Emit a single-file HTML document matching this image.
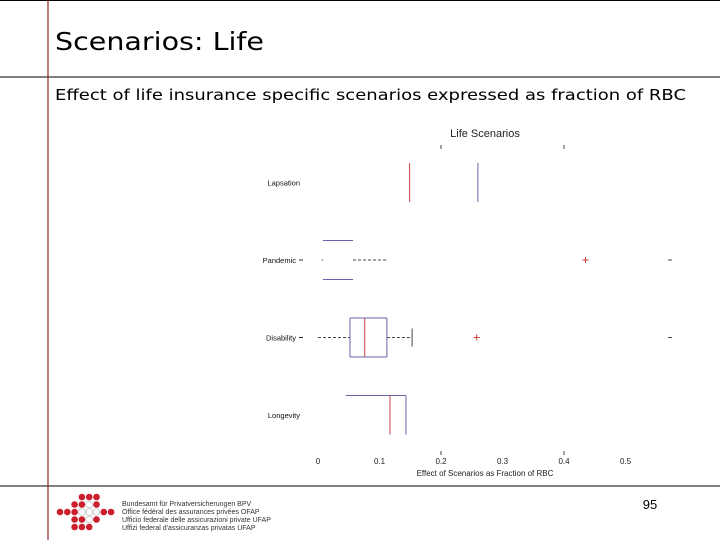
<!DOCTYPE html>
<html><head><meta charset="utf-8"><style>
html,body{margin:0;padding:0;background:#fff;}
svg{display:block;}
</style></head><body>
<svg width="720" height="540" viewBox="0 0 720 540" xmlns="http://www.w3.org/2000/svg" font-family="'Liberation Sans', sans-serif">
<g>
<line x1="0" y1="0.5" x2="720" y2="0.5" stroke="#000" stroke-width="1"/>
<line x1="0" y1="77" x2="720" y2="77" stroke="#000" stroke-width="1"/>
<line x1="0" y1="486" x2="720" y2="486" stroke="#000" stroke-width="1"/>
<line x1="48" y1="0" x2="48" y2="540" stroke="#8b2a2a" stroke-width="1.2"/>
</g>
<text x="55" y="50" font-family="'DejaVu Sans', sans-serif" font-size="25" textLength="209" lengthAdjust="spacingAndGlyphs">Scenarios: Life</text>
<text x="55" y="100" font-family="'DejaVu Sans', sans-serif" font-size="15.5" textLength="631" lengthAdjust="spacingAndGlyphs">Effect of life insurance specific scenarios expressed as fraction of RBC</text>
<text x="485" y="137" font-size="11" text-anchor="middle" fill="#222">Life Scenarios</text>
<g id="chart"></g>
<text x="485" y="476" font-size="8" text-anchor="middle" fill="#222">Effect of Scenarios as Fraction of RBC</text>
<g id="logo"></g>
<g font-size="7" fill="#333">
<text x="122" y="506">Bundesamt für Privatversicherungen BPV</text>
<text x="122" y="514">Office fédéral des assurances privées OFAP</text>
<text x="122" y="522">Ufficio federale delle assicurazioni private UFAP</text>
<text x="122" y="530">Uffizi federal d'assicuranzas privatas UFAP</text>
</g>
<text x="650" y="509" font-size="13" text-anchor="middle">95</text>
</svg>
<script>
const categories=["Lapsation","Pandemic","Disability","Longevity"];
const q1=[0.26,0.008,0.052,0.045];
const med=[0.149,0.008,0.076,0.117];
const q3=[0.26,0.057,0.112,0.143];
const whLo=[0.26,0.006,0.0,0.045];
const whHi=[0.26,0.114,0.153,0.143];
const outliers=[[],[0.435],[0.258],[]];
const ticks=[0,0.1,0.2,0.3,0.4,0.5];
const tickLabels=["0","0.1","0.2","0.3","0.4","0.5"];
const NS="http://www.w3.org/2000/svg";
const g=document.getElementById('chart');
const x=v=>318+v*615;
const yc=i=>182.5+i*77.5;
function mk(t,a){const e=document.createElementNS(NS,t);for(const k in a)e.setAttribute(k,a[k]);g.appendChild(e);return e;}
ticks.forEach((t,i)=>{
 const tl=mk('text',{x:x(t),y:464,'font-size':8,'text-anchor':'middle',fill:'#222'});
 tl.textContent=tickLabels[i];
 
 
});
[0.2,0.4].forEach(t=>{mk('line',{x1:x(t),y1:145,x2:x(t),y2:149,stroke:'#444'});mk('line',{x1:x(t),y1:451,x2:x(t),y2:455,stroke:'#444'});});
categories.forEach((c,i)=>{
 const y=yc(i),h=19.5;
 const lab=mk('text',{x:i==0||i==3?300:296,y:y+3,'font-size':7.5,'text-anchor':'end',fill:'#111'});
 lab.textContent=c;
 
 
 if(i==1||i==2) mk('line',{x1:299,y1:y,x2:303,y2:y,stroke:'#333'});
 const s='#6666aa';
 if(whLo[i]<q1[i]) mk('line',{x1:x(whLo[i]),y1:y,x2:x(q1[i]),y2:y,stroke:'#444','stroke-dasharray':'3,2'});
 if(whHi[i]>q3[i]){mk('line',{x1:x(q3[i]),y1:y,x2:x(whHi[i]),y2:y,stroke:'#444','stroke-dasharray':'3,2'});
   if(i==2) mk('line',{x1:x(whHi[i]),y1:y-9,x2:x(whHi[i]),y2:y+9,stroke:'#444'});}
 if(i==1){
  mk('line',{x1:x(q1[i]),y1:y-h,x2:x(q3[i]),y2:y-h,stroke:s});
  mk('line',{x1:x(q1[i]),y1:y+h,x2:x(q3[i]),y2:y+h,stroke:s});
 } else if(i==3){
  mk('line',{x1:x(q1[i]),y1:y-h,x2:x(q3[i]),y2:y-h,stroke:s});
  mk('line',{x1:x(q3[i]),y1:y-h,x2:x(q3[i]),y2:y+h,stroke:s});
 } else if(q3[i]>q1[i]){
  mk('line',{x1:x(q1[i]),y1:y-h,x2:x(q3[i]),y2:y-h,stroke:s});
  mk('line',{x1:x(q1[i]),y1:y+h,x2:x(q3[i]),y2:y+h,stroke:s});
  mk('line',{x1:x(q1[i]),y1:y-h,x2:x(q1[i]),y2:y+h,stroke:s});
  mk('line',{x1:x(q3[i]),y1:y-h,x2:x(q3[i]),y2:y+h,stroke:s});
 } else mk('line',{x1:x(q3[i]),y1:y-h,x2:x(q3[i]),y2:y+h,stroke:s});
 if(i!=1) mk('line',{x1:x(med[i]),y1:y-h,x2:x(med[i]),y2:y+h,stroke:'#d04040'});
 outliers[i].forEach(o=>{mk('line',{x1:x(o)-3,y1:y,x2:x(o)+3,y2:y,stroke:'#d04040'});mk('line',{x1:x(o),y1:y-3,x2:x(o),y2:y+3,stroke:'#d04040'});});
 if(i==1||i==2) mk('line',{x1:668,y1:y,x2:672,y2:y,stroke:'#444'});
});
const L=document.getElementById('logo');
const grid=[
 [0,0,0,1,1,1,0,0],
 [0,0,1,1,2,1,0,0],
 [1,1,1,2,2,2,1,1],
 [0,0,1,1,2,1,0,0],
 [0,0,1,1,1,0,0,0]];
grid.forEach((r,ri)=>r.forEach((v,ci)=>{
 if(!v)return;
 const c=document.createElementNS(NS,'circle');
 c.setAttribute('cx',60+ci*7.3);c.setAttribute('cy',497+ri*7.5);c.setAttribute('r',3.3);
 c.setAttribute('fill',v==1?'#cc1f2e':'#fff');c.setAttribute('stroke',v==1?'none':'#bbb');c.setAttribute('stroke-width','0.7');
 L.appendChild(c);
}));
</script>
</body></html>
